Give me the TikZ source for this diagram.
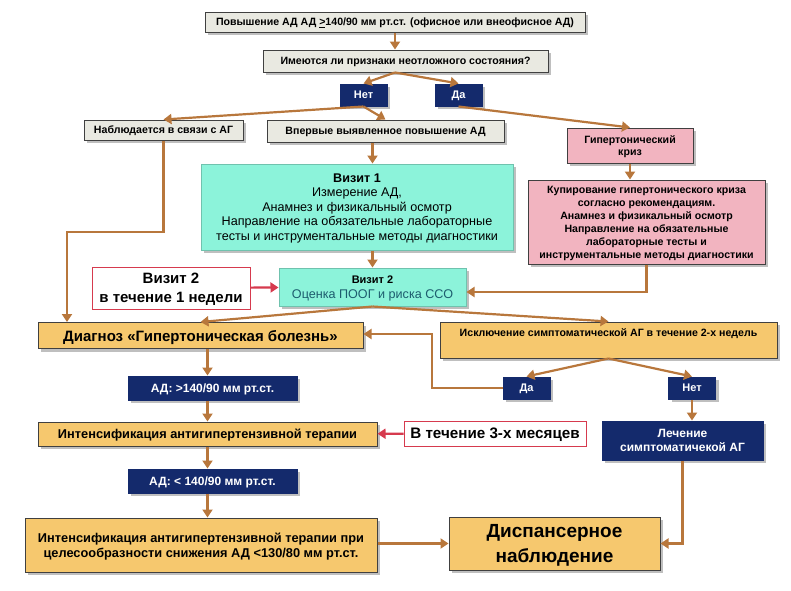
\documentclass[tikz,border=0pt]{standalone}
\usepackage{fontspec}
\setmainfont{Liberation Sans}
\usetikzlibrary{arrows.meta,shadows}

\definecolor{boxgray}{HTML}{E9E9E1}
\definecolor{navy}{HTML}{142A6C}
\definecolor{aqua}{HTML}{8CF3DA}
\definecolor{rose}{HTML}{F2B4C0}
\definecolor{ochre}{HTML}{F6C86E}
\definecolor{brownline}{HTML}{B8773C}
\definecolor{notered}{HTML}{D63A4E}
\definecolor{tealtext}{HTML}{1D5C6E}

\begin{document}
\begin{tikzpicture}[x=1pt,y=-1pt,
		box/.style={draw=black!75,line width=1pt,align=center,inner sep=1pt,text depth=0pt,
			font=\bfseries\fontsize{10.6}{12}\selectfont,
			drop shadow={shadow xshift=3pt,shadow yshift=-3pt,opacity=.5}},
		graybox/.style={box,fill=boxgray},
		navybox/.style={box,fill=navy,draw=navy,text=white,font=\bfseries\fontsize{12}{14}\selectfont},
		yesno/.style={navybox,minimum width=47,minimum height=22,font=\bfseries\fontsize{11}{13}\selectfont},
		aquabox/.style={box,fill=aqua,draw=aqua!80!black,font=\fontsize{12.6}{14.5}\selectfont},
		rosebox/.style={box,fill=rose},
		ochrebox/.style={box,fill=ochre},
		notebox/.style={draw=notered,line width=1pt,fill=white,align=center,text depth=0pt,
			font=\bfseries\fontsize{15}{19}\selectfont},
		arr/.style={draw=brownline,line width=2.2pt,-{Triangle[width=10pt,length=8pt]}},
		redarr/.style={draw=notered,line width=2.2pt,-{Triangle[width=10pt,length=8pt]}}]
	\useasboundingbox (0,0) rectangle (791,590);
	\node[graybox,minimum width=380,minimum height=20] (rise) at (395,22)
		{Повышение АД АД \underline{>}140/90 мм рт.ст. (офисное или внеофисное АД)};
	\node[graybox,minimum width=285,minimum height=22] (urgent) at (405.5,61)
		{Имеются ли признаки неотложного состояния?};
	\node[yesno] (no) at (363.5,95) {Нет};
	\node[yesno] (yes) at (458.5,95) {Да};
	\node[graybox,minimum width=159,minimum height=20] (known) at (163.5,130)
		{Наблюдается в связи с АГ};
	\node[graybox,minimum width=237,minimum height=22] (first) at (385.5,131)
		{Впервые выявленное повышение АД};
	\node[rosebox,minimum width=126,minimum height=35] (crisis) at (630,145.5)
		{Гипертонический\\криз};
	\node[aquabox,minimum width=312,minimum height=86] (visitone) at (357,207)
		{\textbf{Визит 1}\\Измерение АД,\\Анамнез и физикальный осмотр\\
		Направление на обязательные лабораторные\\тесты и инструментальные методы диагностики};
	\node[rosebox,minimum width=237,minimum height=84,font=\bfseries\fontsize{10.6}{13}\selectfont] (relief) at (646.5,222)
		{Купирование гипертонического криза\\согласно рекомендациям.\\Анамнез и физикальный осмотр\\
		Направление на обязательные\\лабораторные тесты и\\инструментальные методы диагностики};
	\node[aquabox,minimum width=187,minimum height=38] (visittwo) at (372.5,287)
		{\textbf{\fontsize{11}{13}\selectfont Визит 2}\\\textcolor{tealtext}{Оценка ПООГ и риска ССО}};
	\node[notebox,minimum width=158,minimum height=42] (week) at (171,288)
		{Визит 2\\в течение 1 недели};
	\node[ochrebox,minimum width=325,minimum height=26,font=\bfseries\fontsize{15}{17}\selectfont] (diag) at (200.5,335.5)
		{Диагноз «Гипертоническая болезнь»};
	\node[ochrebox,minimum width=337,minimum height=36,text depth=15pt] (exclude) at (608.5,340)
		{Исключение симптоматической АГ в течение 2-х недель};
	\node[yesno] (yestwo) at (526.5,388) {Да};
	\node[yesno] (notwo) at (692,388) {Нет};
	\node[navybox,minimum width=161,minimum height=39] (treat) at (682.5,440.5)
		{Лечение\\симптоматичекой АГ};
	\node[navybox,minimum width=169,minimum height=24] (high) at (212.5,388)
		{АД: >140/90 мм рт.ст.};
	\node[ochrebox,minimum width=339,minimum height=24,font=\bfseries\fontsize{12.8}{14}\selectfont] (boost) at (207.5,434)
		{Интенсификация антигипертензивной терапии};
	\node[notebox,minimum width=182,minimum height=25,font=\bfseries\fontsize{15.2}{17}\selectfont] (months) at (495,433.5)
		{В течение 3-х месяцев};
	\node[navybox,minimum width=169,minimum height=24] (low) at (212.5,481)
		{АД: < 140/90 мм рт.ст.};
	\node[ochrebox,minimum width=352,minimum height=54,font=\bfseries\fontsize{12.8}{15}\selectfont] (boosttwo) at (201,545)
		{Интенсификация антигипертензивной терапии при\\целесообразности снижения АД <130/80 мм рт.ст.};
	\node[ochrebox,minimum width=211,minimum height=53,font=\bfseries\fontsize{19}{25}\selectfont] (follow) at (554.5,543.5)
		{Диспансерное\\наблюдение};
	\coordinate (kneeone) at (67,232);
	\coordinate (kneetwo) at (432,334);
	\draw[arr] (rise) -- (urgent.north -| rise);
	\draw[arr] (urgent.south -| rise) -- (no.north);
	\draw[arr] (urgent.south -| rise) -- (yes.north);
	\draw[arr] (no.south) -- (known.north);
	\draw[arr] (no.south) -- (first.north);
	\draw[arr] (yes.south) -- (crisis.north);
	\draw[arr] (first.south -| visittwo) -- (visitone.north -| visittwo);
	\draw[arr] (crisis.south) -- (crisis.south |- relief.north);
	\draw[arr] (visitone.south -| visittwo) -- (visittwo.north);
	\draw[redarr] (week) -- (visittwo);
	\draw[arr] (relief.south) |- ([yshift=-5pt]visittwo.east);
	\draw[arr] (known.south) |- (kneeone) -- (kneeone |- diag.north);
	\draw[arr] (visittwo.south) -- (diag.north);
	\draw[arr] (visittwo.south) -- (exclude.north);
	\draw[arr] (exclude.south) -- (yestwo.north);
	\draw[arr] (exclude.south) -- (notwo.north);
	\draw[arr] (yestwo.west) -| (kneetwo) -- (kneetwo -| diag.east);
	\draw[arr] (notwo.south) -- (notwo.south |- treat.north);
	\draw[arr] (diag.south -| boost) -- (high.north -| boost);
	\draw[arr] (high.south -| boost) -- (boost.north);
	\draw[redarr] (months) -- (boost);
	\draw[arr] (boost.south) -- (low.north -| boost);
	\draw[arr] (low.south -| boost) -- (boosttwo.north -| boost);
	\draw[arr] (boosttwo.east |- follow) -- (follow.west);
	\draw[arr] (treat.south) |- (follow.east);
\end{tikzpicture}
\end{document}
